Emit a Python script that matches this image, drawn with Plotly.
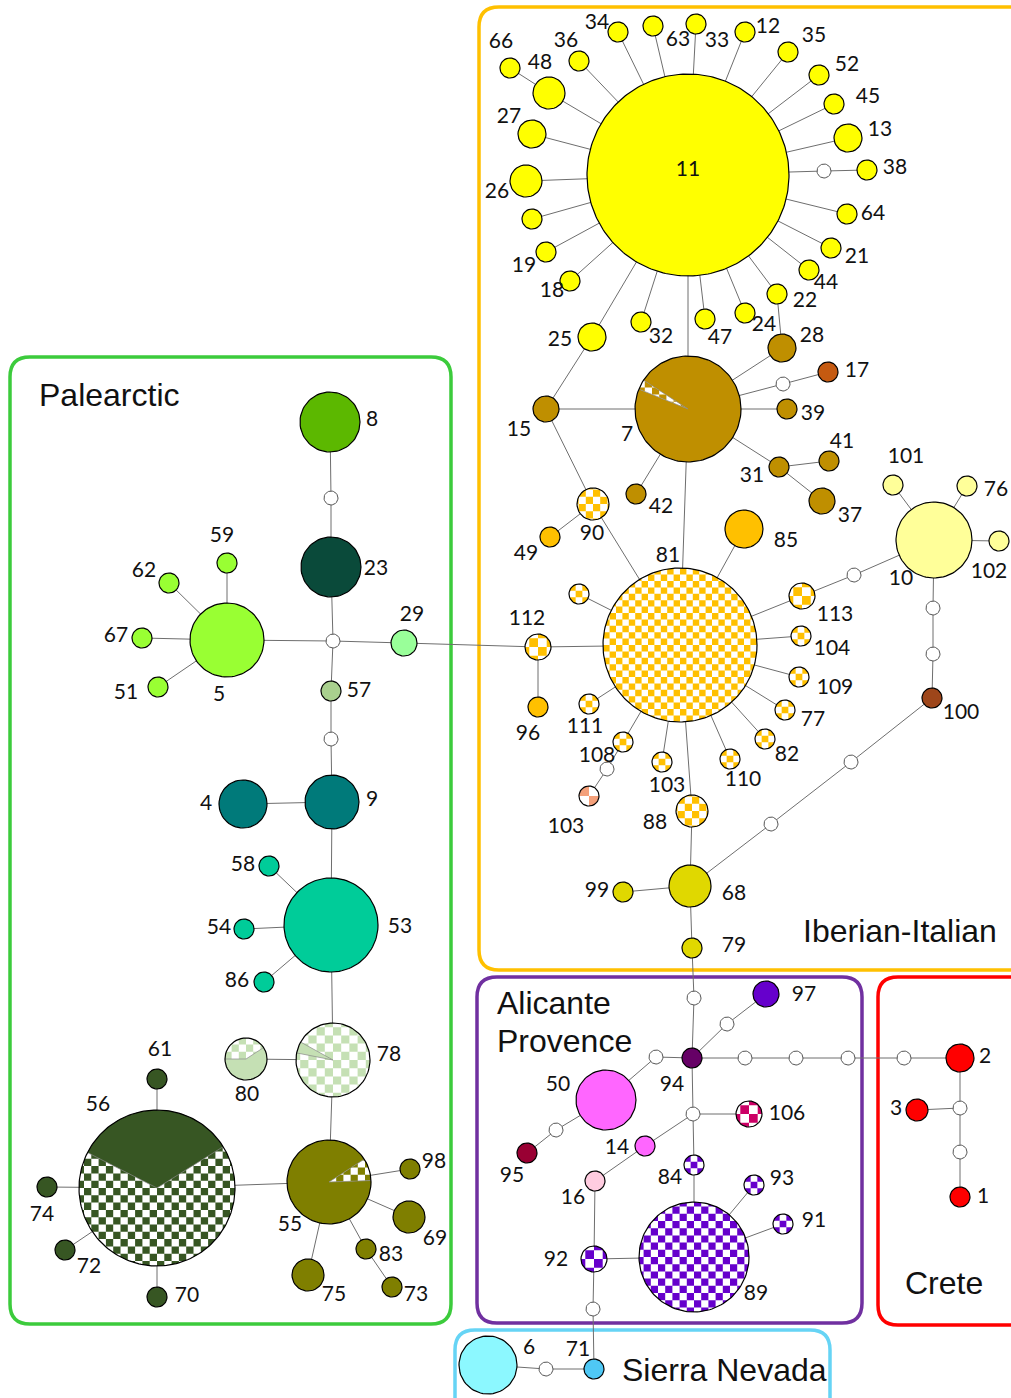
import math
import plotly.graph_objects as go

# ---------------- data ----------------
node_ids = ["11","66","48","36","34","63","33","12","35","52","45","13","m38","38","64","21","44","22","24","47","32","25","18","19","u1","26","27",
            "28","7","m17","17","39","31","41","37","42","15",
            "90","49","85","81","u2","112","96","111","108","m103","103b","103a","88","110","82","77","109","104","113","m113",
            "10","101","76","102","m10a","m10b","100","m100a","m100b","68","99","79",
            "m79","94","m97","97","m50","50","m95","95","mA","106","14","16","84","89","93","91","92","m71","71","m6","6",
            "mc1","mc2","mc3","mc4","2","mc5","3","mc6","1",
            "8","m8","23","mP","29","57","5","59","62","67","51","m57","9","4","53","58","54","86",
            "78","80","55","98","69","83","73","75","56","61","74","72","70"]
node_x = [688,510,549,579,618,653,696,745,788,819,834,848,824,867,847,831,809,777,745,705,641,592,570,546,532,526,532,
          782,688,783,828,787,779,829,822,636,546,
          593,550,744,680,579,538,538,589,623,607,589,662,692,730,765,785,799,801,802,854,
          934,893,967,999,933,933,932,851,771,690,623,692,
          694,692,727,766,656,606,556,527,693,749,645,595,694,694,754,783,594,593,594,546,488,
          745,796,848,904,960,960,917,960,960,
          330,331,331,333,404,331,227,227,169,142,158,331,332,243,331,269,244,264,
          333,246,329,410,409,366,392,308,157,157,47,65,157]
node_y = [175,68,93,61,32,26,24,32,52,75,104,138,171,170,214,248,270,294,313,319,322,337,281,252,219,181,134,
          348,409,384,372,409,467,461,501,494,409,
          504,537,529,645,594,647,707,704,742,769,796,762,811,759,739,710,677,636,596,575,
          540,485,486,541,608,654,698,762,824,886,892,948,
          998,1058,1024,994,1057,1100,1130,1153,1114,1114,1146,1181,1165,1257,1185,1224,1259,1309,1369,1369,1365,
          1058,1058,1058,1058,1058,1108,1110,1152,1197,
          422,498,567,641,643,691,640,563,583,638,687,739,802,804,925,866,929,982,
          1060,1059,1182,1169,1217,1249,1287,1275,1188,1079,1187,1250,1297]
node_r = [101,10,16,10,10,10,10,10,10,10,10,14,7,10,10,10,10,10,10,10,10,14,10,10,10,16,14,
          14,53,7,10,10,10,10,13,10,13,
          16,10,19,77,10,13,10,10,10,7,10,10,16,10,10,10,10,10,13,7,
          38,10,10,10,7,7,10,7,7,21,10,10,
          7,10,7,13,7,30,7,10,7,13,10,10,10,55,10,10,13,7,10,7,29,
          7,7,7,7,14,7,11,7,10,
          30,7,30,7,13,10,37,10,10,10,10,7,27,24,47,10,10,10,
          37,21,42,10,16,10,10,16,78,10,10,10,10]
Y, BR, OR, PY, OL = "#FFFF00", "#BF8F00", "#FFC000", "#FFFF99", "#E0D800"
W = "#FFFFFF"
node_color = [Y]*12 + [W] + [Y]*14 + [BR,BR,W,"#C55A11",BR,BR,BR,BR,BR,BR] + \
    [OR,OR,OR,OR,OR,OR,OR,OR,OR,W,"#F4A07A",OR,OR,OR,OR,OR,OR,OR,OR,W] + \
    [PY,PY,PY,PY,W,W,"#9E461A",W,W,OL,OL,OL] + \
    [W,"#660066",W,"#6600CC",W,"#FF66FF",W,"#990033",W,"#CC0066","#FF66FF","#FFCCE0","#6600CC","#6600CC","#6600CC","#6600CC","#6600CC",W,"#4FC8F5",W,"#8CF8FF"] + \
    [W,W,W,W,"#FF0000",W,"#FF0000",W,"#FF0000"] + \
    ["#5CB800",W,"#0A4A3A",W,"#99FF99","#A9D08E","#99FF33","#99FF33","#99FF33","#99FF33","#99FF33",W,"#007A7A","#007A7A","#00CC99","#00CC99","#00CC99","#00CC99"] + \
    ["#C5E0B4","#C5E0B4","#7F7F00","#7F7F00","#7F7F00","#7F7F00","#7F7F00","#7F7F00","#375623","#375623","#375623","#375623","#375623"]
checkered = {"90","81","u2","112","111","108","103b","103a","88","110","82","77","109","104","113",
             "106","84","89","93","91","92","78","56"}
# wedges: id -> (start angle, end angle, style of wedge)
wedges = {"7": (147, 158, "checker"), "78": (151, 169, "solid"), "80": (33, 180, "checker"),
          "55": (2, 33, "checker"), "56": (32, 153, "solid")}
cell_size = {"81": 6.4, "89": 7.2, "56": 7.3, "78": 8.2, "103b": 10, "106": 8.7, "112": 8.7, "92": 8.7, "113": 8.7}

edges = [("11",k) for k in ["48","36","34","63","33","12","35","52","45","13","m38","64","21","44","22","24","47","32","25","18","19","u1","26","27","7"]] + [
    ("66","48"),("m38","38"),("22","28"),("28","7"),("25","15"),("15","7"),("15","90"),
    ("7","m17"),("m17","17"),("7","39"),("7","31"),("31","41"),("31","37"),("7","42"),("7","81"),
    ("90","49"),("90","81"),("81","85"),("81","u2"),("81","112"),("112","96"),("112","29"),("81","111"),
    ("81","108"),("108","m103"),("m103","103b"),("81","103a"),("81","88"),("81","110"),("81","82"),
    ("81","77"),("81","109"),("81","104"),("81","113"),("113","m113"),("m113","10"),("10","101"),
    ("10","76"),("10","102"),("10","m10a"),("m10a","m10b"),("m10b","100"),("100","m100a"),
    ("m100a","m100b"),("m100b","68"),("88","68"),("68","99"),("68","79"),("79","m79"),("m79","94"),
    ("94","m97"),("m97","97"),("94","m50"),("m50","50"),("50","m95"),("m95","95"),("94","mc1"),
    ("mc1","mc2"),("mc2","mc3"),("mc3","mc4"),("mc4","2"),("2","mc5"),("mc5","3"),("mc5","mc6"),("mc6","1"),
    ("94","mA"),("mA","106"),("mA","14"),("14","16"),("mA","84"),("84","89"),("89","93"),("89","91"),
    ("89","92"),("16","92"),("92","m71"),("m71","71"),("71","m6"),("m6","6"),
    ("29","mP"),("mP","23"),("23","m8"),("m8","8"),("mP","5"),("5","59"),("5","62"),("5","67"),("5","51"),
    ("mP","57"),("57","m57"),("m57","9"),("9","4"),("9","53"),("53","58"),("53","54"),("53","86"),
    ("53","78"),("78","80"),("78","55"),("55","98"),("55","69"),("55","83"),("83","73"),("55","75"),
    ("55","56"),("56","61"),("56","74"),("56","72"),("56","70")]

# node labels: text, x, y
label_text = ["11","66","48","36","34","63","33","12","35","52","45","13","38","64","21","44","22","24","28","47","32","25","18","19","26","27",
              "17","39","41","31","37","42","7","15",
              "90","49","81","85","112","96","111","108","103","103","88","110","82","77","109","104","113",
              "101","76","102","10","100","68","99","79",
              "97","50","94","106","14","95","16","84","93","91","92","89","2","3","1","6","71",
              "8","23","29","57","5","59","62","67","51","9","4","53","58","54","86",
              "78","80","55","98","69","83","73","75","61","56","74","72","70"]
label_x = [688,501,540,566,597,678,717,768,814,847,868,880,895,873,857,826,805,764,812,720,661,560,552,524,497,509,
           857,813,842,752,850,661,627,519,
           592,526,668,786,527,528,585,597,667,566,655,743,787,813,835,832,835,
           906,996,989,901,961,734,597,734,
           804,558,672,787,617,512,573,670,782,814,556,756,985,896,983,529,578,
           372,376,412,359,219,222,144,116,126,372,206,400,243,219,237,
           389,247,290,434,435,391,416,334,160,98,42,89,187]
label_y = [171,43,64,42,24,41,42,28,37,66,98,131,169,215,258,284,302,326,337,339,338,341,292,267,193,118,
           372,415,443,477,517,508,436,431,
           535,555,557,542,620,735,728,757,787,828,824,781,756,721,689,650,616,
           458,491,573,580,714,895,892,947,
           996,1086,1086,1115,1149,1177,1199,1179,1180,1222,1261,1295,1058,1110,1198,1349,1351,
           421,570,616,692,696,537,572,637,694,801,805,928,866,929,982,
           1056,1096,1226,1163,1240,1256,1296,1296,1051,1106,1216,1268,1297]

# group boxes: name, x0, y0, x1, y1, colour
box_names = ["Iberian-Italian","Palearctic","Alicante Provence","Crete","Sierra Nevada"]
box_x0 = [479, 10, 477, 878, 455]
box_y0 = [7, 357, 977, 977, 1330]
box_x1 = [1040, 451, 862, 1040, 830]
box_y1 = [970, 1324, 1323, 1325, 1430]
box_color = ["#FFC000", "#3CCB3C", "#7030A0", "#FF0000", "#66D4F5"]
group_text = ["Palearctic","Iberian-Italian","Alicante","Provence","Crete","Sierra Nevada"]
group_x = [37, 900, 495, 495, 944, 620]
group_y = [395, 931, 1003, 1041, 1283, 1370]
group_anchor = ["left","center","left","left","center","left"]

# ---------------- geometry helpers ----------------
def circle_pts(cx, cy, r):
    n = max(36, int(r * 2.5))
    return [(cx + r * math.cos(2 * math.pi * i / n), cy - r * math.sin(2 * math.pi * i / n)) for i in range(n)]

def sector_pts(cx, cy, r, a1, a2):
    n = max(8, int((a2 - a1) / 3))
    pts = [(cx, cy)]
    for i in range(n + 1):
        a = math.radians(a1 + (a2 - a1) * i / n)
        pts.append((cx + r * math.cos(a), cy - r * math.sin(a)))
    return pts

def area_sign(poly):
    s = 0
    for i in range(len(poly)):
        x1, y1 = poly[i]; x2, y2 = poly[(i + 1) % len(poly)]
        s += x1 * y2 - x2 * y1
    return 1 if s > 0 else -1

def clip(subject, clipper):
    sg = area_sign(clipper)
    def inside(p, a, b):
        return sg * ((b[0] - a[0]) * (p[1] - a[1]) - (b[1] - a[1]) * (p[0] - a[0])) >= 0
    def inter(p, q, a, b):
        x1, y1 = p; x2, y2 = q; x3, y3 = a; x4, y4 = b
        d = (x1 - x2) * (y3 - y4) - (y1 - y2) * (x3 - x4)
        if abs(d) < 1e-12:
            return q
        t = ((x1 - x3) * (y3 - y4) - (y1 - y3) * (x3 - x4)) / d
        return (x1 + t * (x2 - x1), y1 + t * (y2 - y1))
    out = subject
    for i in range(len(clipper)):
        a = clipper[i]; b = clipper[(i + 1) % len(clipper)]
        inp = out; out = []
        if not inp:
            break
        s = inp[-1]
        for e in inp:
            if inside(e, a, b):
                if not inside(s, a, b):
                    out.append(inter(s, e, a, b))
                out.append(e)
            elif inside(s, a, b):
                out.append(inter(s, e, a, b))
            s = e
    return out

layers = [dict() for _ in range(4)]
def add_poly(layer, color, pts):
    d = layers[layer].setdefault(color, ([], []))
    for p in pts:
        d[0].append(p[0]); d[1].append(p[1])
    d[0].append(pts[0][0]); d[1].append(pts[0][1])
    d[0].append(None); d[1].append(None)

def add_checker(layer, color, cx, cy, r, region, cs):
    k = int(math.ceil(r / cs)) + 1
    off = cs / 2 if r <= 11 and cs < 9 else 0
    for i in range(-k, k + 1):
        for j in range(-k, k + 1):
            if (i + j) % 2:
                continue
            x0 = cx - off + i * cs; y0 = cy - off + j * cs
            sq = [(x0, y0), (x0 + cs, y0), (x0 + cs, y0 + cs), (x0, y0 + cs)]
            c = clip(sq, region)
            if len(c) >= 3:
                add_poly(layer, color, c)

pos = {}
outline_x, outline_y, med_x, med_y, wl_x, wl_y = [], [], [], [], [], []
for nid, x, y, r, col in zip(node_ids, node_x, node_y, node_r, node_color):
    pos[nid] = (x, y)
    circ = circle_pts(x, y, r)
    chk = nid in checkered
    cs = cell_size.get(nid, 6.7 if r <= 11 else 7.2)
    add_poly(0, W if chk else col, circ)
    if chk:
        add_checker(1, col, x, y, r, circ, cs)
    if nid in wedges:
        a1, a2, st = wedges[nid]
        sec = sector_pts(x, y, r, a1, a2)
        if st == "solid":
            add_poly(2, col, sec)
        else:
            add_poly(2, W, sec)
            add_checker(3, col, x, y, r, sec, cs)
        for a in (a1, a2):
            wl_x += [x, x + r * math.cos(math.radians(a)), None]
            wl_y += [y, y - r * math.sin(math.radians(a)), None]
    tx = outline_x if not nid.startswith("m") else med_x
    ty = outline_y if not nid.startswith("m") else med_y
    for p in circ + [circ[0]]:
        tx.append(p[0]); ty.append(p[1])
    tx.append(None); ty.append(None)

ex, ey = [], []
for a, b in edges:
    ex += [pos[a][0], pos[b][0], None]
    ey += [pos[a][1], pos[b][1], None]

fig = go.Figure()
fig.add_trace(go.Scatter(x=ex, y=ey, mode="lines", line=dict(color="#6E6E6E", width=1), hoverinfo="skip"))
for lay in layers:
    for col, (xs, ys) in lay.items():
        fig.add_trace(go.Scatter(x=xs, y=ys, mode="lines", fill="toself", fillcolor=col,
                                 line=dict(width=0, color=col), hoverinfo="skip"))
fig.add_trace(go.Scatter(x=wl_x, y=wl_y, mode="lines", line=dict(color="#8A8A8A", width=0.7), hoverinfo="skip"))
fig.add_trace(go.Scatter(x=med_x, y=med_y, mode="lines", line=dict(color="#555555", width=1), hoverinfo="skip"))
fig.add_trace(go.Scatter(x=outline_x, y=outline_y, mode="lines", line=dict(color="#000000", width=1.2), hoverinfo="skip"))
fig.add_trace(go.Scatter(x=label_x, y=label_y, mode="text", text=label_text,
                         textfont=dict(family="Lato", size=21, color="#111111"), hoverinfo="skip"))

def rrect(x0, y0, x1, y1, r=20):
    return (f"M {x0+r},{y0} L {x1-r},{y0} Q {x1},{y0} {x1},{y0+r} L {x1},{y1-r} Q {x1},{y1} {x1-r},{y1} "
            f"L {x0+r},{y1} Q {x0},{y1} {x0},{y1-r} L {x0},{y0+r} Q {x0},{y0} {x0+r},{y0} Z")

shapes = []
for nm, x0, y0, x1, y1, c in zip(box_names, box_x0, box_y0, box_x1, box_y1, box_color):
    shapes.append(dict(type="path", path=rrect(x0, y0, x1, y1), xref="x", yref="y",
                       line=dict(color=c, width=3.5), fillcolor="rgba(0,0,0,0)", layer="below"))
annotations = [dict(x=gx, y=gy, text=t, xref="x", yref="y", showarrow=False, xanchor=an, yanchor="middle",
                    font=dict(family="Liberation Sans, Arial", size=32, color="#111111"))
               for t, gx, gy, an in zip(group_text, group_x, group_y, group_anchor)]

fig.update_layout(width=1011, height=1398, margin=dict(l=0, r=0, t=0, b=0),
                  paper_bgcolor="white", plot_bgcolor="white", showlegend=False,
                  xaxis=dict(range=[0, 1011], visible=False, fixedrange=True),
                  yaxis=dict(range=[1398, 0], visible=False, fixedrange=True),
                  shapes=shapes, annotations=annotations)
# remove the page's default body margin so that the figure fills the window exactly
fig.write_html("out.html", config={"displayModeBar": False},
               post_script="document.body.style.margin='0px';document.body.style.padding='0px';")
